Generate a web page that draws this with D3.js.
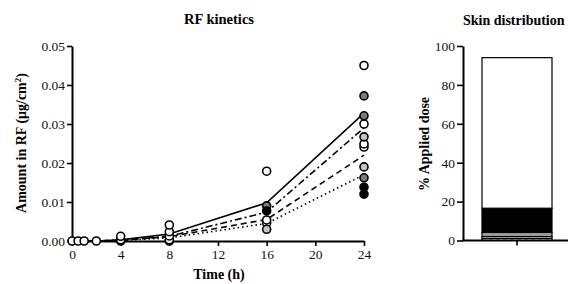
<!DOCTYPE html>
<html><head><meta charset="utf-8">
<script src="https://cdn.jsdelivr.net/npm/d3@7"></script>
<style>
body{margin:0;background:#fff;}
svg{display:block;font-family:"Liberation Serif","Times New Roman",serif;}
</style></head>
<body><svg id="c" width="568" height="284"></svg>
<script>
// ---- data ----
const times = [0, 0.5, 1, 2, 4, 8, 16, 24];
const meanSolid   = [0, 0, 0, 0, 0.0003, 0.0018, 0.0098, 0.0328];
const meanDashDot = [0, 0, 0, 0, 0.0002, 0.0012, 0.0074, 0.0290];
const meanDashed  = [0, 0, 0, 0, 0.0002, 0.0011, 0.0055, 0.0220];
const meanDotted  = [0, 0, 0, 0, 0.0001, 0.0008, 0.0045, 0.0170];
const ptsWhite = [[0,0],[0.5,0],[1,0],[2,0],[4,0],[4,0.0003],[4,0.0012],[8,0],[8,0.0003],[8,0.0013],[8,0.0024],[8,0.0041],[16,0.0046],[16,0.0054],[16,0.0179],[24,0.0241],[24,0.0249],[24,0.0300],[24,0.0450]];
const ptsDark  = [[16,0.0090],[24,0.0162],[24,0.0321],[24,0.0372]];
const ptsLight = [[16,0.0030],[24,0.0190],[24,0.0267]];
const ptsBlack = [[16,0.0077],[24,0.0120],[24,0.0138]];
const xTicksL = [0, 4, 8, 12, 16, 20, 24];
const yTicksL = [0, 0.01, 0.02, 0.03, 0.04, 0.05];
const barCategory = ["Skin"];
const barSegments = [1.0, 1.0, 2.2, 12.4, 77.4];
const yTicksR = [0, 20, 40, 60, 80, 100];

const svg = d3.select("#c");
const xL = d3.scaleLinear().domain([0, 24]).range([72, 364]);
const yL = d3.scaleLinear().domain([0, 0.05]).range([241, 46]);
const yR = d3.scaleLinear().domain([0, 100]).range([240.5, 46]);
const xR = d3.scaleBand().domain(barCategory).range([482, 552]).padding(0);

function styleAxis(g){
  g.attr("font-family","Liberation Serif, serif").attr("font-size",13.5);
  g.select(".domain").attr("stroke","#000").attr("stroke-width",2);
  g.selectAll(".tick line").attr("stroke","#000").attr("stroke-width",1.6);
  g.selectAll(".tick text").attr("fill","#111");
}

// ---- left chart ----
const lineGen = vals => d3.line().x((d,i)=>xL(times[i])).y(d=>yL(d))(vals);
const lines = [
  {v: meanDotted, dash: "1.5,3"},
  {v: meanDashed, dash: "6,4"},
  {v: meanDashDot, dash: "7,3,2,3"},
  {v: meanSolid, dash: null}
];
svg.append("g").selectAll("path").data(lines).join("path")
  .attr("d", d=>lineGen(d.v)).attr("fill","none").attr("stroke","#000")
  .attr("stroke-width",1.6).attr("stroke-dasharray", d=>d.dash);

svg.append("g").attr("transform","translate(0,241)")
  .call(d3.axisBottom(xL).tickValues(xTicksL).tickSize(5).tickSizeOuter(0).tickPadding(3))
  .call(styleAxis);
svg.append("g").attr("transform","translate(72,0)")
  .call(d3.axisLeft(yL).tickValues(yTicksL).tickFormat(d3.format(".2f")).tickSize(5).tickSizeOuter(0).tickPadding(2))
  .call(styleAxis);

const groups = [
  {p: ptsWhite, fill: "#fff"},
  {p: ptsLight, fill: "#c4c4c4"},
  {p: ptsDark, fill: "#7a7a7a"},
  {p: ptsBlack, fill: "#000"}
];
groups.forEach(g=>{
  svg.append("g").selectAll("circle").data(g.p).join("circle")
    .attr("cx", d=>xL(d[0])).attr("cy", d=>yL(d[1])).attr("r",4)
    .attr("fill", g.fill).attr("stroke","#000").attr("stroke-width",1.6);
});

svg.append("text").attr("x",219).attr("y",24).attr("text-anchor","middle")
  .attr("font-weight","bold").attr("font-size",14.5).text("RF kinetics");
svg.append("text").attr("x",219).attr("y",279).attr("text-anchor","middle")
  .attr("font-weight","bold").attr("font-size",14).text("Time (h)");
const yl = svg.append("text").attr("transform","translate(26,143) rotate(-90)")
  .attr("text-anchor","middle").attr("font-weight","bold").attr("font-size",14);
yl.append("tspan").text("Amount in RF (\u03bcg/cm");
yl.append("tspan").attr("font-size",9).attr("dy",-5).text("2");
yl.append("tspan").attr("dy",5).text(")");

// ---- right chart ----
const stack = [];
let acc = 0;
barSegments.forEach((v,i)=>{ stack.push({y0: acc, y1: acc+v, i}); acc += v; });
const segFill = ["#fff", "#fff", "#999", "#000", "#fff"];
svg.append("g").selectAll("rect").data(stack).join("rect")
  .attr("x", xR("Skin")).attr("width", xR.bandwidth())
  .attr("y", d=>yR(d.y1)).attr("height", d=>yR(d.y0)-yR(d.y1))
  .attr("fill", d=>segFill[d.i]).attr("stroke","#000").attr("stroke-width",1.2)
  .attr("stroke-dasharray", d=>d.i===0 ? "4,3" : null);

svg.append("g").attr("transform","translate(463,0)")
  .call(d3.axisLeft(yR).tickValues(yTicksR).tickSize(6).tickSizeOuter(0).tickPadding(2))
  .call(styleAxis);
const gx = svg.append("g").attr("transform","translate(0,240.5)")
  .call(d3.axisBottom(xR).tickFormat("").tickSize(5).tickSizeOuter(0))
  .call(styleAxis);
gx.select(".domain").remove();
svg.append("line").attr("x1",462).attr("x2",568).attr("y1",240.5).attr("y2",240.5)
  .attr("stroke","#000").attr("stroke-width",2);

svg.append("text").attr("x",463).attr("y",25)
  .attr("font-weight","bold").attr("font-size",14).text("Skin distribution");
svg.append("text").attr("transform","translate(429,144) rotate(-90)")
  .attr("text-anchor","middle").attr("font-weight","bold").attr("font-size",14).text("% Applied dose");
</script></body></html>
